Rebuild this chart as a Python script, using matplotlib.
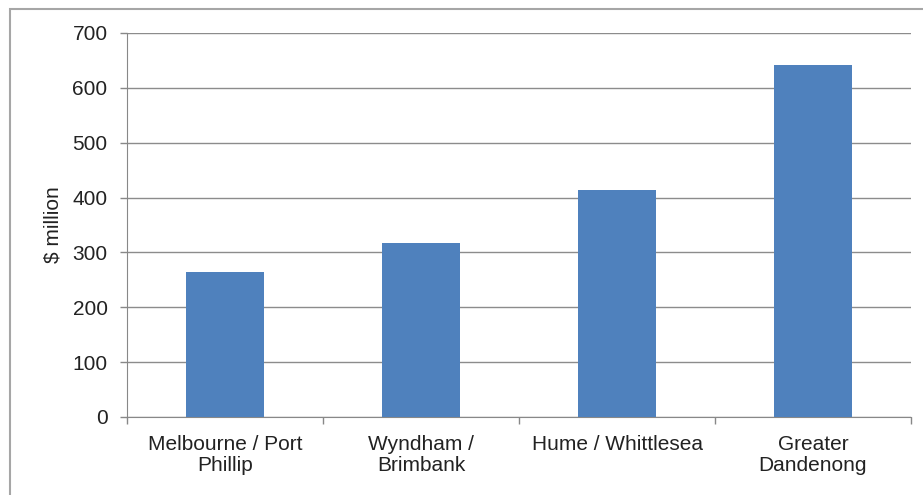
import matplotlib
matplotlib.use("Agg")
import matplotlib.pyplot as plt
from matplotlib.patches import Rectangle

# data
regions = ["Melbourne / Port\nPhillip", "Wyndham /\nBrimbank", "Hume / Whittlesea", "Greater\nDandenong"]
values = [264, 318, 413, 641]
yticks = [0, 100, 200, 300, 400, 500, 600, 700]

plt.rcParams['font.family'] = ['Liberation Sans', 'DejaVu Sans']

W, H = 923, 495
fig = plt.figure(figsize=(W / 100, H / 100), dpi=100)
ax = fig.add_axes([127 / W, (H - 417) / H, (911 - 127) / W, (417 - 33) / H])

# outer chart border
fig.patches.append(Rectangle((10 / W, -0.05), 1.1, (H - 9) / H + 0.05, transform=fig.transFigure,
                             fill=False, edgecolor='#a6a6a6', linewidth=1.5))

x = list(range(len(values)))
ax.bar(x, values, width=0.4, color='#4f81bd', zorder=3)

ax.set_xlim(-0.5, len(values) - 0.5)
ax.set_ylim(0, 700)
ax.set_yticks(yticks)
ax.set_yticklabels([str(v) for v in yticks], fontsize=15, color='#222222')
ax.set_xticks(x)
ax.set_xticklabels(regions, fontsize=15, color='#222222', linespacing=1.1)
ax.tick_params(axis='x', length=0, pad=13)
ax.tick_params(axis='y', length=5, color='#888888', width=1, pad=9)

# category boundary ticks
ax.set_xticks([i - 0.5 for i in range(len(values) + 1)], minor=True)
ax.tick_params(axis='x', which='minor', length=5, color='#888888', width=1)

ax.yaxis.grid(True, color='#8c8c8c', linewidth=1, zorder=0)
for s in ['top', 'right']:
    ax.spines[s].set_visible(False)
ax.spines['left'].set_color('#888888')
ax.spines['bottom'].set_color('#888888')
ax.set_ylabel("\\$ million", fontsize=15, color='#222222', labelpad=7)

fig.savefig("out.png", dpi=100)
